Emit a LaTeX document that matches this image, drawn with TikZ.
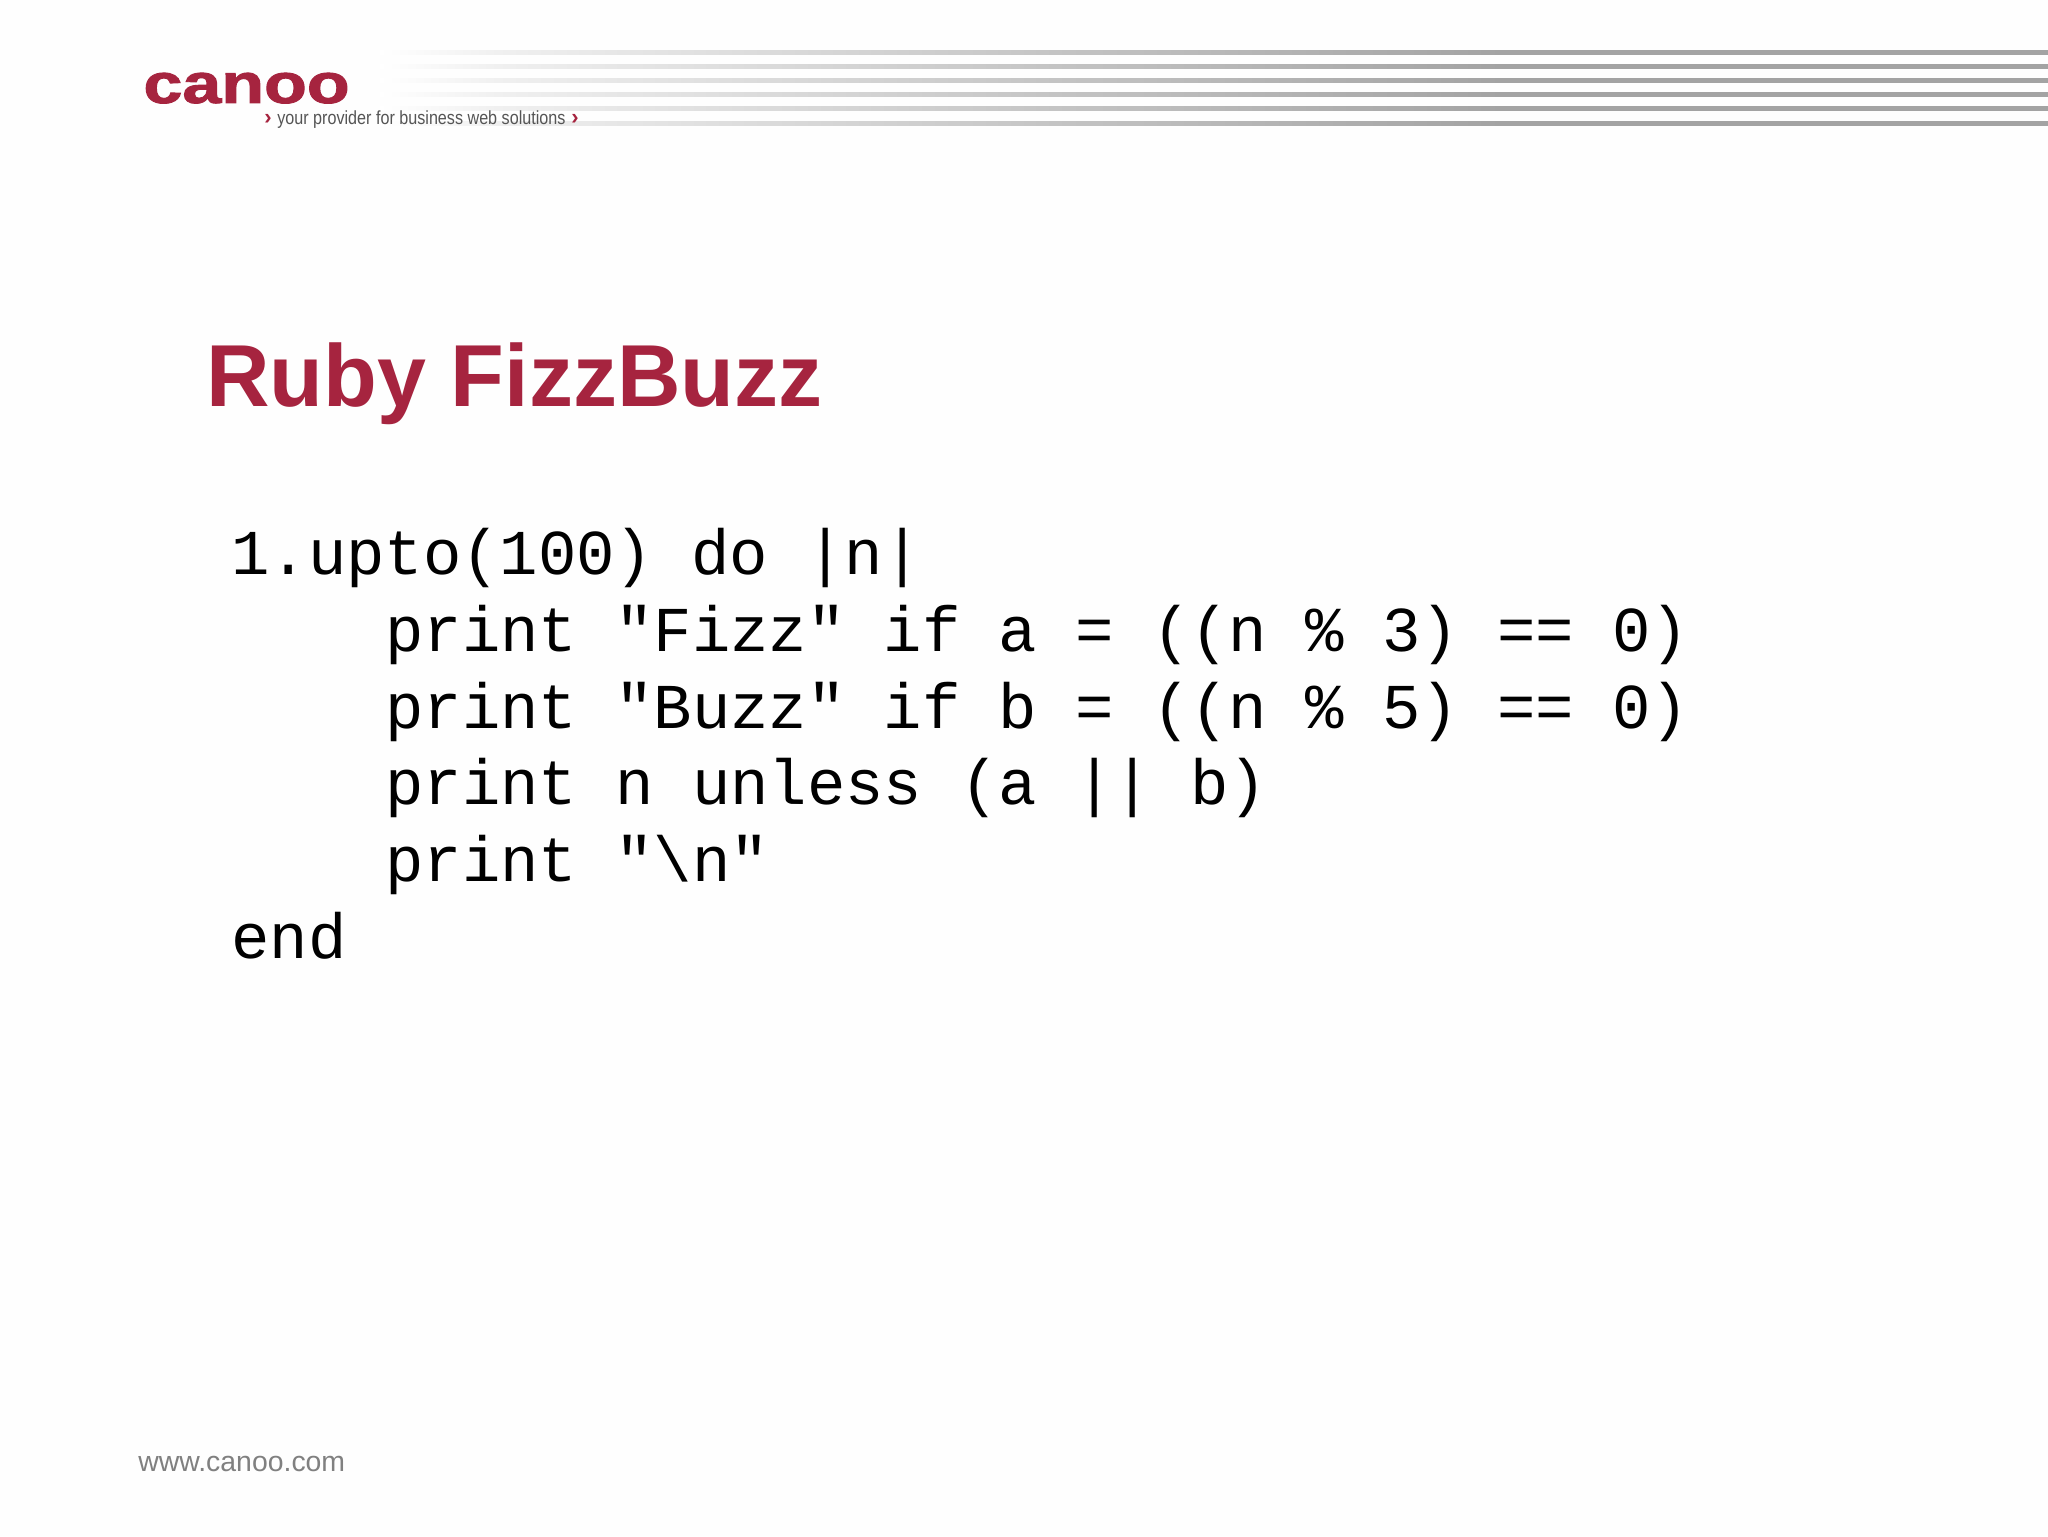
\documentclass[tikz,border=0pt]{standalone}
\usepackage{fontspec}
\setmainfont{Liberation Sans}
\newfontfamily\codefont{Liberation Mono}
\newfontfamily\logofont[FakeBold=1.6]{Liberation Sans Bold}
\definecolor{brand}{HTML}{A6243F}
\definecolor{rule}{HTML}{A3A3A3}
\definecolor{taggrey}{HTML}{555555}
\definecolor{footgrey}{HTML}{808080}
\definecolor{paper}{HTML}{FEFEFE}
\pgfdeclarehorizontalshading{rulefadeshade}{100bp}{
  color(0bp)=(white); color(25bp)=(white); color(28.6bp)=(white!94!black);
  color(45.1bp)=(white!77!black); color(58.6bp)=(rule); color(100bp)=(rule)}
\tikzset{
  px/.style={x=0.5pt,y=-0.5pt},
  codeline/.style={anchor=base west,inner sep=0pt,font=\fontsize{31.95pt}{38.4pt}\selectfont\codefont,text=black},
  rulefade/.style={shading=rulefadeshade,draw=none}
}
\begin{document}
\begin{tikzpicture}[px]
\useasboundingbox[fill=paper] (0,0) rectangle (2048,1536);
\foreach \y in {53,67,81,95,109,123}{
  \shade[rulefade] (380,\y-2) rectangle (2048,\y+2);
}
\node[anchor=base west,inner sep=0pt,text=brand,xscale=1.25,font=\fontsize{28pt}{28pt}\selectfont\logofont] (logo) at (143,103) {canoo};
\node[anchor=base west,inner sep=0pt,text=taggrey,xscale=0.85,font=\fontsize{9.5pt}{10pt}\selectfont] (tag) at (277,125) {your provider for business web solutions};
\node[anchor=base,inner sep=0pt,text=brand,font=\fontsize{11pt}{10pt}\selectfont\bfseries] (chl) at (268,125) {›};
\node[anchor=base,inner sep=0pt,text=brand,font=\fontsize{11pt}{10pt}\selectfont\bfseries] (chr) at (575,125) {›};
\node[anchor=base west,inner sep=0pt,text=brand,font=\fontsize{44pt}{50pt}\selectfont\bfseries] (title) at (206,406) {Ruby FizzBuzz};
\node[codeline] (l1) at (231,574.5) {1.upto(100) do |n|};
\node[codeline] (l2) at (385,651.3) {print "Fizz" if a = ((n \% 3) == 0)};
\node[codeline] (l3) at (385,728.1) {print "Buzz" if b = ((n \% 5) == 0)};
\node[codeline] (l4) at (385,804.9) {print n unless (a || b)};
\node[codeline] (l5) at (385,881.7) {print "\textbackslash n"};
\node[codeline] (l6) at (231,958.5) {end};
\node[anchor=base west,inner sep=0pt,text=footgrey,font=\fontsize{14.2pt}{16pt}\selectfont] (foot) at (138,1471) {www.canoo.com};
\end{tikzpicture}
\end{document}
